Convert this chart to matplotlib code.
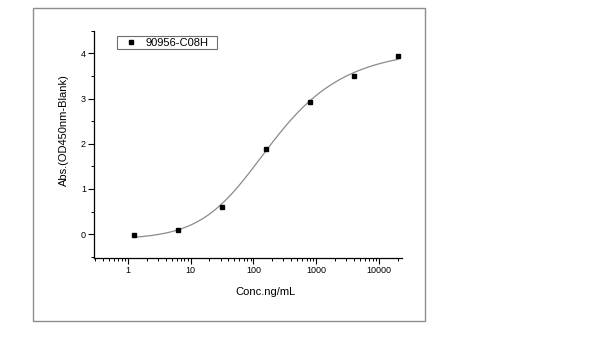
import numpy as np
import matplotlib
matplotlib.use("Agg")
import matplotlib.pyplot as plt
from matplotlib.patches import Rectangle
from matplotlib.ticker import LogLocator, MultipleLocator, FixedLocator

plt.rcParams['font.family'] = ['Liberation Sans', 'DejaVu Sans']

# ELISA standard curve, 5-fold dilution series
conc = [1.28, 6.4, 32, 160, 800, 4000, 20000]
absorb = [-0.02, 0.09, 0.61, 1.875, 2.92, 3.49, 3.93]
series_name = "90956-C08H"

# five-parameter logistic fit: bottom, top, log10(C), hill, asymmetry
fit_bottom = -0.1160
fit_top = 4.0950
fit_logc = 1.8383
fit_hill = 0.9580
fit_asym = 0.5354

x_ticks = [1, 10, 100, 1000, 10000]
x_tick_labels = ["1", "10", "100", "1000", "10000"]
y_ticks = [0, 1, 2, 3, 4]


def logistic5(x):
    u = (np.log10(x) - fit_logc) * fit_hill
    return fit_top + (fit_bottom - fit_top) / (1 + 10 ** u) ** fit_asym


W, H = 600, 338
fig = plt.figure(figsize=(6, 3.38), dpi=100)

# gray frame round the graph page
fig.patches.append(Rectangle((33 / W, 1 - 321 / H), 392 / W, 313 / H,
                             transform=fig.transFigure, fill=False,
                             edgecolor='#8c8c8c', linewidth=1.0))

ax = fig.add_axes([94.3 / W, 1 - 257.7 / H, 307.4 / W, 227 / H])
ax.set_xscale('log')

xs = np.logspace(np.log10(conc[0]), np.log10(conc[-1]), 300)
ax.plot(xs, logistic5(xs), color='#8a8a8a', linewidth=0.9, zorder=2)
ax.plot(conc, absorb, linestyle='none', marker='s', markersize=3.0,
        color='black', label=series_name, zorder=3)

ax.set_xlim(0.294, 22900)
ax.set_ylim(-0.52, 4.5)

ax.xaxis.set_major_locator(FixedLocator(x_ticks))
ax.set_xticklabels(x_tick_labels)
ax.xaxis.set_minor_locator(LogLocator(base=10, subs=np.arange(2, 10)))
ax.xaxis.set_minor_formatter(plt.NullFormatter())
ax.yaxis.set_major_locator(FixedLocator(y_ticks))
ax.yaxis.set_minor_locator(MultipleLocator(0.5))

for side in ['top', 'right']:
    ax.spines[side].set_visible(False)
for side in ['left', 'bottom']:
    ax.spines[side].set_linewidth(0.9)

ax.tick_params(which='major', direction='out', length=4, width=0.8,
               labelsize=6.5, pad=2)
ax.tick_params(which='minor', direction='out', length=2, width=0.7)

ax.set_xlabel("Conc.ng/mL", fontsize=8)
ax.xaxis.set_label_coords(0.556, -0.127)
ax.set_ylabel("Abs.(OD450nm-Blank)", fontsize=8)
ax.yaxis.set_label_coords(-0.081, 0.563)

# legend entry without its own frame, box drawn separately
ax.legend(loc='center left', bbox_to_anchor=((124 - 94.3) / 307.4, (257.7 - 43) / 227),
          fontsize=8, frameon=False, borderpad=0, borderaxespad=0,
          handlelength=1.2, handletextpad=0.76)
fig.patches.append(Rectangle((117 / W, 1 - 49.3 / H), 99.7 / W, 13.3 / H,
                             transform=fig.transFigure, fill=False,
                             edgecolor='#6e6e6e', linewidth=0.8))

fig.savefig("out.png", dpi=100)
